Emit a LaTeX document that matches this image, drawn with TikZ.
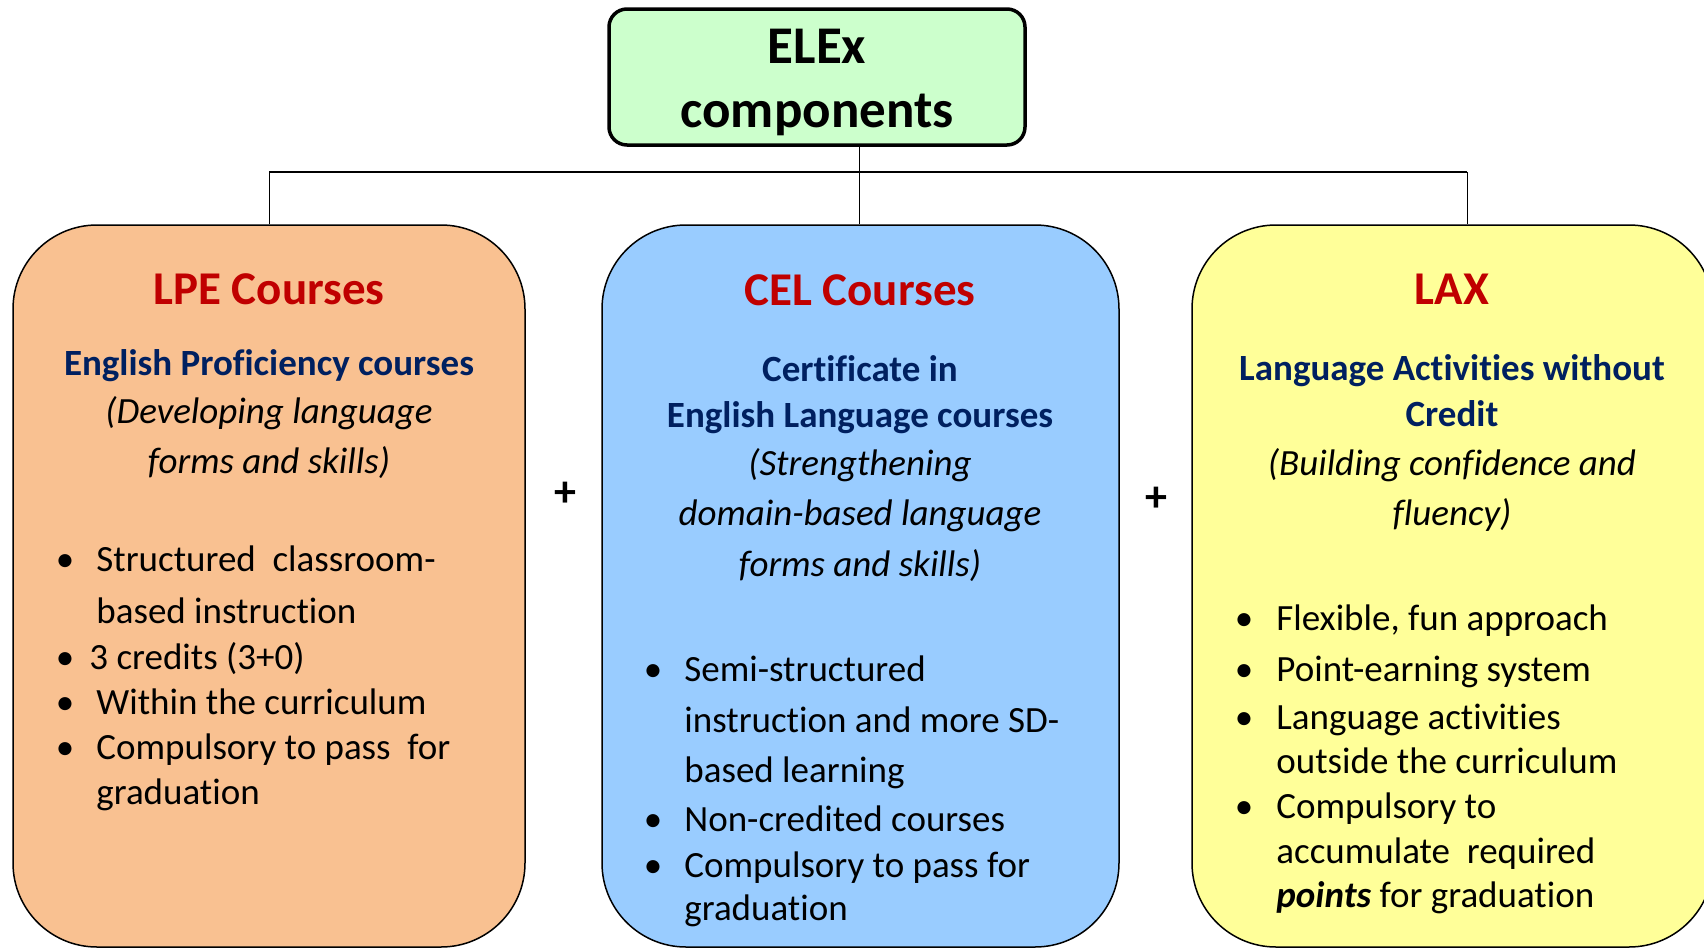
\documentclass[tikz,border=0pt]{standalone}
\usepackage{fontspec}
\setmainfont{Carlito}[Ligatures=NoCommon]
\usepackage{tikz}
\usepackage{xcolor}

\definecolor{topgreen}{HTML}{CCFFCC}
\definecolor{lpeorange}{HTML}{F9C191}
\definecolor{celblue}{HTML}{99CCFF}
\definecolor{laxyellow}{HTML}{FFFF99}
\definecolor{headred}{HTML}{C00000}
\definecolor{subnavy}{HTML}{002060}

\begin{document}
\begin{tikzpicture}[x=0.5pt, y=-0.5pt,
    topbox/.style={draw, line width=1.75pt, rounded corners=9pt, fill=topgreen,
      minimum width=208pt, minimum height=68pt},
    toptxt/.style={font=\fontsize{26.5pt}{31pt}\selectfont\bfseries, anchor=base},
    compbox/.style={draw, line width=0.75pt, rounded corners=42pt, minimum height=361pt},
    headtxt/.style={font=\fontsize{23.5pt}{28pt}\selectfont\bfseries, text=headred, anchor=base},
    subtxt/.style={font=\fontsize{18.5pt}{22pt}\selectfont\bfseries, text=subnavy, anchor=base},
    notetxt/.style={font=\fontsize{18.5pt}{22pt}\selectfont\itshape, anchor=base},
    itemtxt/.style={font=\fontsize{18.5pt}{22pt}\selectfont, anchor=base west, inner sep=0pt},
    bulletdot/.style={font=\fontsize{18.5pt}{22pt}\selectfont, anchor=base, inner sep=0pt},
    plussign/.style={font=\fontsize{22pt}{26pt}\selectfont\bfseries, inner sep=0pt},
  ]
  \useasboundingbox (0,0) rectangle (1704,948);

  % top node
  \node[topbox] (elex) at (817,77) {};
  \node[toptxt] (elexa) at (817,63) {ELEx};
  \node[toptxt] (elexb) at (817,127) {components};

  % the three components
  \node[compbox, fill=lpeorange, minimum width=256pt] (lpe) at (269,586) {};
  \node[compbox, fill=celblue, minimum width=258.5pt] (cel) at (860.5,586) {};
  \node[compbox, fill=laxyellow, minimum width=260.5pt] (lax) at (1452.5,586) {};

  % tree lines
  \coordinate (hub) at (859,172);
  \coordinate (laxtop) at (1467,224);
  \draw[line width=0.5pt] (elex.south -| hub) -- (cel.north -| hub);
  \draw[line width=0.5pt] (lpe.north) -- (lpe.north |- hub);
  \draw[line width=0.5pt] (laxtop) -- (laxtop |- hub);
  \draw[line width=1pt] (lpe.north |- hub) -- (laxtop |- hub);

  \node[plussign] (plusa) at (565,494) {+};
  \node[plussign] (plusb) at (1156,499) {+};

  % LPE
  \node[headtxt] (lpehead) at (269,304) {LPE Courses};
  \node[subtxt] (lpesub) at (269,375) {English Proficiency courses};
  \foreach \y/\t [count=\i] in {423/{(Developing language}, 473/{forms and skills)}}
    \node[notetxt] (lpenote\i) at (269,\y) {\t};
  \foreach \y [count=\i] in {571,669,714,759}
    \node[bulletdot] (lpedot\i) at (65,\y) {\textbullet};
  \node[itemtxt] (lpeitema) at (96,571) {Structured~~classroom-};
  \node[itemtxt] (lpeitemb) at (96,623) {based instruction};
  \node[itemtxt] (lpeitemc) at (89,669) {3 credits (3+0)};
  \node[itemtxt] (lpeitemd) at (96,714) {Within the curriculum};
  \node[itemtxt] (lpeiteme) at (96,759) {Compulsory to pass~~for};
  \node[itemtxt] (lpeitemf) at (96,804) {graduation};

  % CEL
  \node[headtxt] (celhead) at (860,305) {CEL Courses};
  \node[subtxt] (celsuba) at (860,381) {Certificate in};
  \node[subtxt] (celsubb) at (860,427) {English Language courses};
  \foreach \y/\t [count=\i] in {475/{(Strengthening}, 525/{domain-based language}, 576/{forms and skills)}}
    \node[notetxt] (celnote\i) at (860,\y) {\t};
  \foreach \y [count=\i] in {681,831,877}
    \node[bulletdot] (celdot\i) at (653,\y) {\textbullet};
  \foreach \y/\t [count=\i] in {681/{Semi-structured}, 732/{instruction and more SD-},
      782/{based learning}, 831/{Non-credited courses}, 877/{Compulsory to pass for}, 920/{graduation}}
    \node[itemtxt] (celitem\i) at (684,\y) {\t};

  % LAX
  \node[headtxt] (laxhead) at (1452,304) {LAX};
  \node[subtxt] (laxsuba) at (1452,380) {Language Activities without};
  \node[subtxt] (laxsubb) at (1452,426) {Credit};
  \foreach \y/\t [count=\i] in {475/{(Building confidence and}, 525/{fluency)}}
    \node[notetxt] (laxnote\i) at (1452,\y) {\t};
  \foreach \y [count=\i] in {630,681,729,818}
    \node[bulletdot] (laxdot\i) at (1244,\y) {\textbullet};
  \foreach \y/\t [count=\i] in {630/{Flexible, fun approach}, 681/{Point-earning system},
      729/{Language activities}, 773/{outside the curriculum}, 818/{Compulsory to},
      863/{accumulate~~required}, 907/{\textbf{\textit{points}} for graduation}}
    \node[itemtxt] (laxitem\i) at (1276,\y) {\t};
\end{tikzpicture}
\end{document}
